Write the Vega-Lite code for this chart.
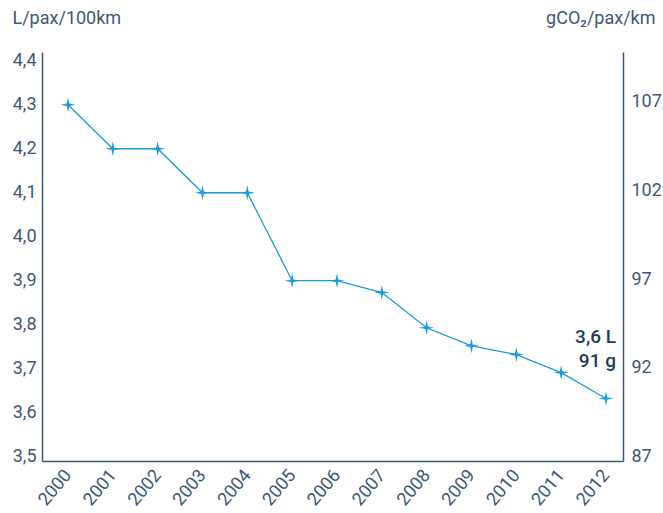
{
  "$schema": "https://vega.github.io/schema/vega-lite/v6.json",
  "autosize": "none",
  "width": 581,
  "height": 409,
  "padding": {"left": 42, "top": 52, "right": 40, "bottom": 52},
  "background": "white",
  "config": {
    "view": {"stroke": null},
    "font": "Roboto",
    "axis": {"domainColor": "#3d5877", "domainWidth": 1.5, "ticks": false, "grid": false, "labelColor": "#3d5877", "labelFont": "Roboto", "labelFontSize": 18, "titleFont": "Roboto", "titleFontSize": 18, "titleColor": "#3d5877", "titleFontWeight": "normal"}
  },
  "data": {"values": [
    {"year": 2000, "l": 4.30},
    {"year": 2001, "l": 4.20},
    {"year": 2002, "l": 4.20},
    {"year": 2003, "l": 4.10},
    {"year": 2004, "l": 4.10},
    {"year": 2005, "l": 3.90},
    {"year": 2006, "l": 3.90},
    {"year": 2007, "l": 3.873},
    {"year": 2008, "l": 3.793},
    {"year": 2009, "l": 3.752},
    {"year": 2010, "l": 3.732},
    {"year": 2011, "l": 3.691},
    {"year": 2012, "l": 3.632}
  ]},
  "encoding": {
    "x": {"field": "year", "type": "quantitative",
      "scale": {"domain": [1999.42, 2012.38], "nice": false, "zero": false},
      "axis": {"title": null, "values": [2000,2001,2002,2003,2004,2005,2006,2007,2008,2009,2010,2011,2012], "format": "d", "labelAngle": -50, "labelAlign": "right", "labelBaseline": "middle", "labelPadding": 11, "labelFlush": false, "labelOverlap": false}}
  },
  "layer": [
    {
      "mark": {"type": "line", "color": "#1b9bd7", "strokeWidth": 1.3},
      "encoding": {
        "y": {"field": "l", "type": "quantitative",
          "scale": {"domain": [3.49, 4.42], "nice": false, "zero": false},
          "axis": {"values": [3.5,3.6,3.7,3.8,3.9,4.0,4.1,4.2,4.3,4.4], "format": ".1f", "labelExpr": "replace(datum.label, '.', ',')", "labelPadding": 6, "title": "L/pax/100km", "titleAngle": 0, "titleAlign": "left", "titleBaseline": "middle", "titleX": -30, "titleY": -34}}
      }
    },
    {
      "mark": {"type": "point", "shape": "M0,-1L0.17,-0.17L1,0L0.17,0.17L0,1L-0.17,0.17L-1,0L-0.17,-0.17Z", "filled": true, "color": "#1b9bd7", "size": 220, "opacity": 1},
      "encoding": {
        "y": {"field": "l", "type": "quantitative", "scale": {"domain": [3.49, 4.42], "nice": false, "zero": false}, "axis": null}
      }
    },
    {
      "data": {"values": [
        {"year": 2012, "l": 3.773, "label": "3,6 L"},
        {"year": 2012, "l": 3.717, "label": "91 g"}
      ]},
      "mark": {"type": "text", "align": "right", "baseline": "middle", "dx": 10, "fontSize": 19, "fontWeight": 500, "color": "#1f3a5c", "font": "Roboto"},
      "encoding": {
        "y": {"field": "l", "type": "quantitative", "scale": {"domain": [3.49, 4.42], "nice": false, "zero": false}, "axis": null},
        "text": {"field": "label"}
      }
    },
    {
      "data": {"values": [{"g": 87}, {"g": 92}, {"g": 97}, {"g": 102}, {"g": 107}]},
      "mark": {"type": "point", "opacity": 0},
      "encoding": {
        "x": {"datum": 2000, "type": "quantitative"},
        "y": {"field": "g", "type": "quantitative",
          "scale": {"domain": [86.75, 109.8], "nice": false, "zero": false},
          "axis": {"orient": "right", "values": [87, 92, 97, 102, 107], "labelPadding": 8, "title": "gCO₂/pax/km", "titleAngle": 0, "titleAlign": "right", "titleBaseline": "middle", "titleX": 32, "titleY": -34}}
      }
    }
  ],
  "resolve": {"scale": {"y": "independent"}}
}
